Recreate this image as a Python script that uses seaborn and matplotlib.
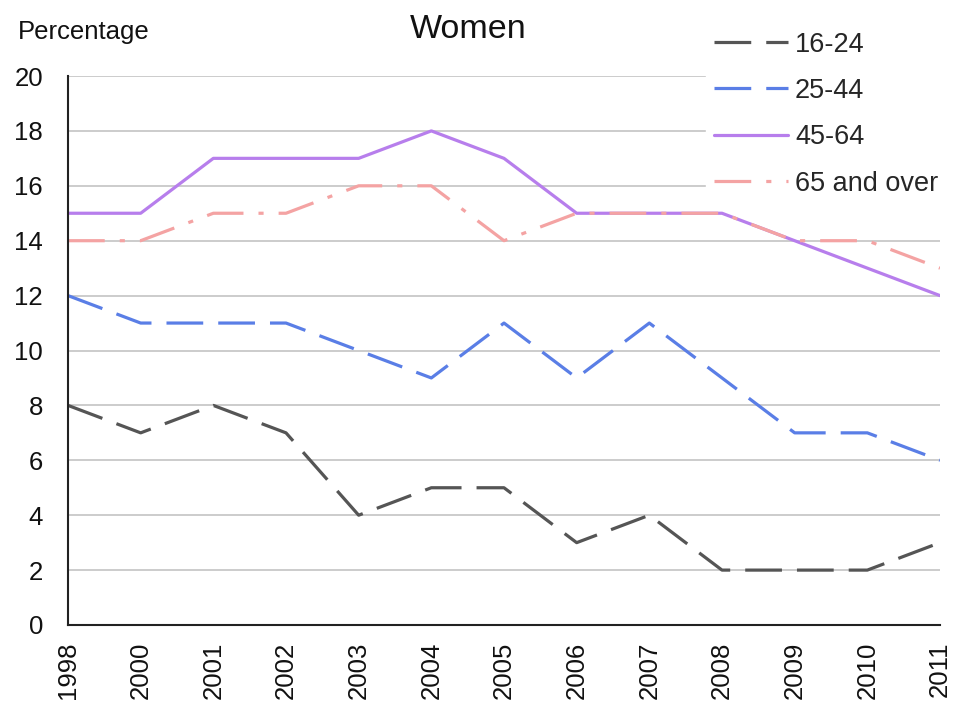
import matplotlib
matplotlib.use("Agg")
import matplotlib.pyplot as plt
import seaborn as sns
import pandas as pd
from matplotlib.lines import Line2D

years = ["1998", "2000", "2001", "2002", "2003", "2004", "2005", "2006", "2007", "2008", "2009", "2010", "2011"]
age_16_24 = [8, 7, 8, 7, 4, 5, 5, 3, 4, 2, 2, 2, 3]
age_25_44 = [12, 11, 11, 11, 10, 9, 11, 9, 11, 9, 7, 7, 6]
age_45_64 = [15, 15, 17, 17, 17, 18, 17, 15, 15, 15, 14, 13, 12]
age_65_over = [14, 14, 15, 15, 16, 16, 14, 15, 15, 15, 14, 14, 13]
series_names = ["16-24", "25-44", "45-64", "65 and over"]
y_ticks = [0, 2, 4, 6, 8, 10, 12, 14, 16, 18, 20]

colors = {"16-24": "#555555", "25-44": "#5A7EE6", "45-64": "#B77EEC", "65 and over": "#F4A3A3"}
dashes = {"16-24": (11.5, 4.7), "25-44": (11.5, 4.7), "45-64": "", "65 and over": (11.5, 4.7, 1.6, 4.7)}

rows = []
for name, vals in zip(series_names, [age_16_24, age_25_44, age_45_64, age_65_over]):
    for i, (yr, v) in enumerate(zip(years, vals)):
        rows.append({"pos": i, "year": yr, "value": v, "series": name})
df = pd.DataFrame(rows)

sns.set_theme(style="white")
plt.rcParams["font.family"] = ["Liberation Sans", "DejaVu Sans"]

fig = plt.figure(figsize=(9.54, 7.01), dpi=100)
ax = fig.add_axes([68/954, 1-625/701, (940-68)/954, (625-76)/701])

sns.lineplot(data=df, x="pos", y="value", hue="series", style="series",
             hue_order=series_names, style_order=series_names,
             palette=colors, dashes=dashes, linewidth=2.3, ax=ax, legend=False, sort=False)

ax.set_xlim(0, len(years) - 1)
ax.set_ylim(0, 20)
ax.set_xticks(range(len(years)))
ax.set_xticklabels(years, rotation=90, fontsize=18.5, color="#111111")
ax.set_yticks(y_ticks)
ax.set_yticklabels([str(t) for t in y_ticks], fontsize=18.5, color="#111111")
ax.set_xlabel("")
ax.set_ylabel("")
ax.yaxis.grid(True, color="#C4C4C4", linewidth=1.2)
ax.set_axisbelow(True)
for s in ["top", "right"]:
    ax.spines[s].set_visible(False)
for s in ["left", "bottom"]:
    ax.spines[s].set_color("#222222")
    ax.spines[s].set_linewidth(1.5)
ax.tick_params(axis="both", direction="out", length=6, width=1.5, color="#222222")
ax.tick_params(axis="y", pad=12)
ax.tick_params(axis="x", pad=6)

handles = [Line2D([], [], color=colors[n], linewidth=2.3,
                  linestyle=("-" if dashes[n] == "" else (0, dashes[n]))) for n in series_names]
leg = fig.legend(handles, series_names, loc="upper right", bbox_to_anchor=(960/954, 1-10/701),
                 fontsize=19.5, handlelength=2.75, labelspacing=0.75, handletextpad=0.25,
                 frameon=True, facecolor="white", edgecolor="white", framealpha=1,
                 borderpad=0.3)
leg.set_zorder(5)

fig.text(18/954, 1-32/701, "Percentage", fontsize=18.5, va="center", ha="left", color="#111111")
fig.text(468/954, 1-30/701, "Women", fontsize=24.5, va="center", ha="center", color="#111111")

fig.savefig("out.png", dpi=100, facecolor="white")
